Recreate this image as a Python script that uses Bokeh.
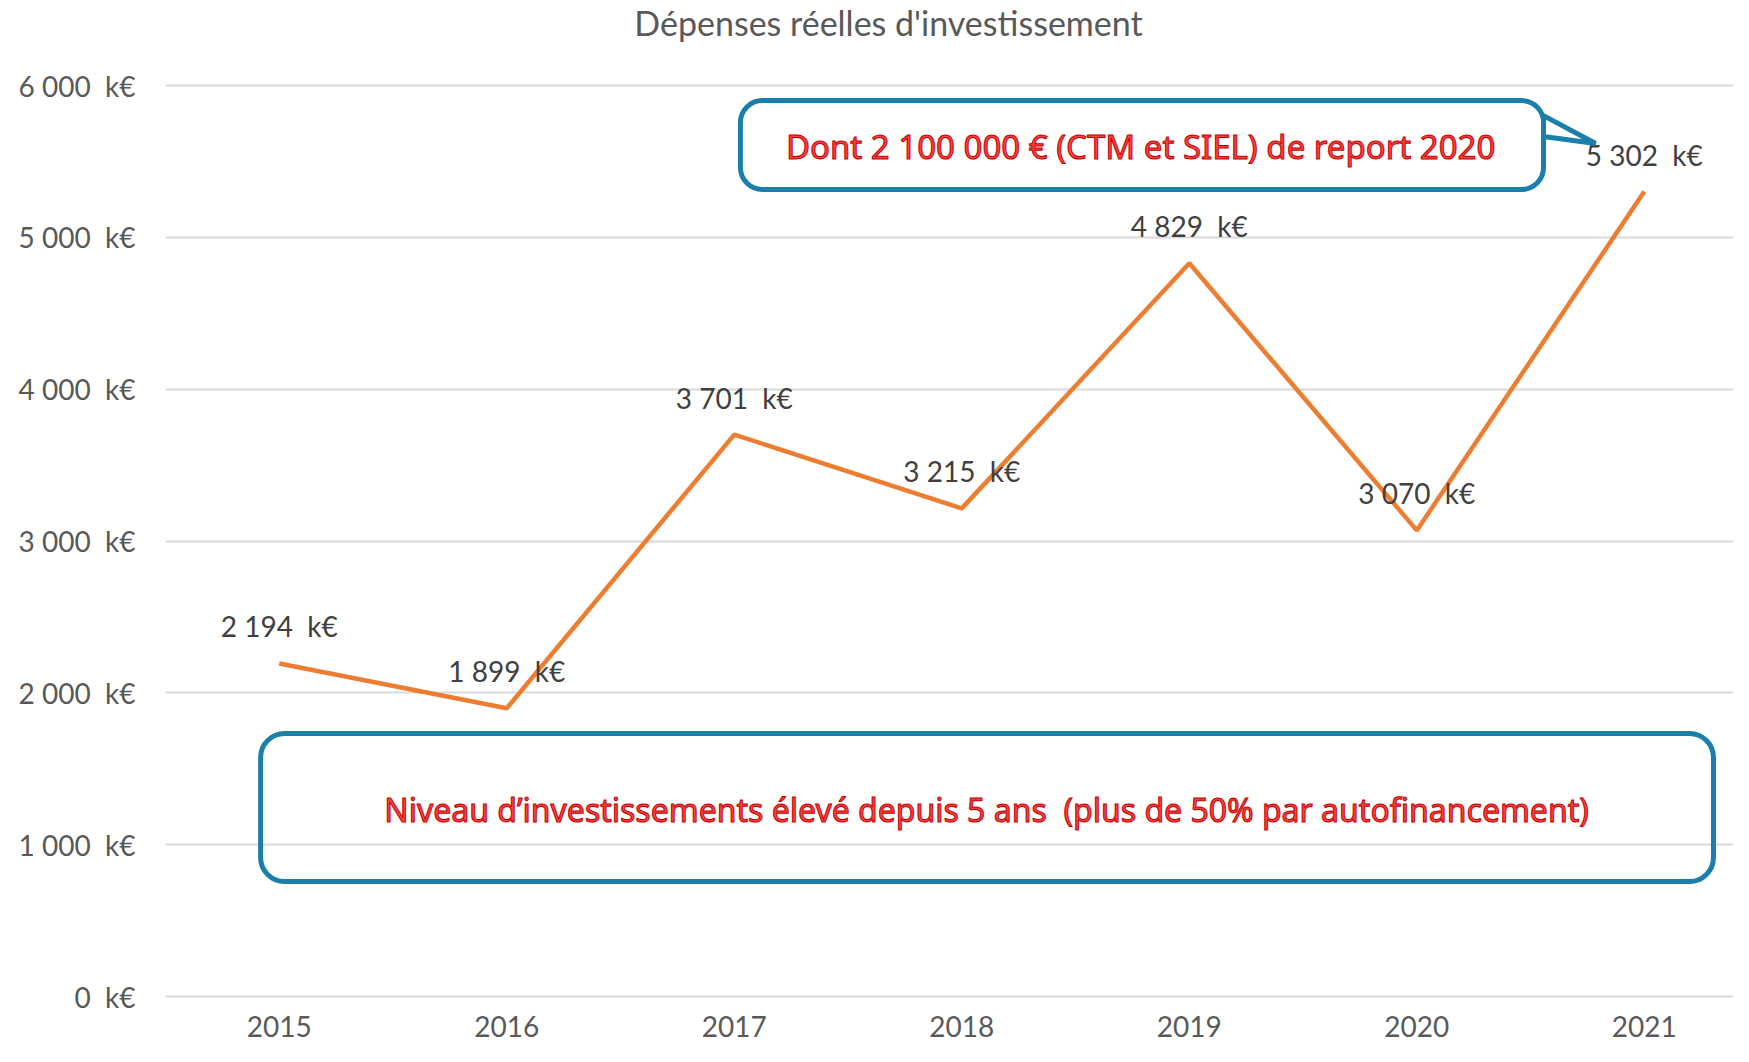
from bokeh.plotting import figure
from bokeh.models import ColumnDataSource, FixedTicker, BoxAnnotation, Range1d, Label
from bokeh.core.properties import value
from bokeh.embed import file_html
from bokeh.resources import INLINE

years = ["2015", "2016", "2017", "2018", "2019", "2020", "2021"]
depenses = [2194, 1899, 3701, 3215, 4829, 3070, 5302]
y_ticks = [0, 1000, 2000, 3000, 4000, 5000, 6000]
title_text = "Dépenses réelles d'investissement"
note_top = "Dont 2 100 000 € (CTM et SIEL) de report 2020"
note_bottom = "Niveau d\u2019investissements élevé depuis 5 ans \u00a0(plus de 50% par autofinancement)"

SP = " \u00a0"  # double space before unit


def fmt(v):
    return f"{v:,}".replace(",", " ") + SP + "k€"


xs = list(range(len(years)))
src = ColumnDataSource(dict(x=xs, y=depenses, lab=[fmt(v) for v in depenses]))

p = figure(width=1733, height=1046, output_backend="svg", toolbar_location=None,
           x_range=Range1d(-0.5, 6.392), y_range=Range1d(-26, 6560),
           min_border_left=165, min_border_right=0, min_border_bottom=46, min_border_top=0)
p.outline_line_color = None
p.background_fill_color = "white"
p.border_fill_color = "white"

# axes
p.xaxis.ticker = FixedTicker(ticks=xs)
p.xaxis.major_label_overrides = {i: y for i, y in enumerate(years)}
p.yaxis.ticker = FixedTicker(ticks=y_ticks)
p.yaxis.major_label_overrides = {t: fmt(t) for t in y_ticks}
for ax in (p.xaxis, p.yaxis):
    ax.axis_line_color = None
    ax.major_tick_line_color = None
    ax.minor_tick_line_color = None
    ax.major_tick_out = 0
    ax.major_tick_in = 0
    ax.minor_tick_out = 0
    ax.minor_tick_in = 0
    ax.major_label_text_font = "Lato"
    ax.major_label_text_font_size = "28px"
    ax.major_label_text_color = "#595959"
p.yaxis.major_label_standoff = 30
p.xaxis.major_label_standoff = 15

p.xgrid.grid_line_color = None
p.ygrid.ticker = FixedTicker(ticks=y_ticks)
p.ygrid.grid_line_color = "#D9D9D9"
p.ygrid.grid_line_width = 2

# title (inside the extended frame)
p.add_layout(Label(x=2.678, y=6415, text=title_text, text_align="center",
                   text_baseline="middle", text_font="Lato", text_font_size="34px",
                   text_color="#595959"))

# line
p.line("x", "y", source=src, line_color="#ED7D31", line_width=4.5)

# data labels
p.text("x", "y", text="lab", source=src, y_offset=-37,
       text_align="center", text_baseline="middle",
       text_font=value("Lato"), text_font_size="28px", text_color="#404040")

# callout boxes
blue = "#1A7FAA"
tail_x = [5.557, 5.786, 5.557]
tail_y = [5802, 5618, 5664]
p.patch(tail_x, tail_y, fill_color="white", line_color=blue, line_width=5)
box1 = BoxAnnotation(left=2.027, right=5.557, bottom=5315, top=5901,
                     fill_alpha=0.0, line_color=blue,
                     line_width=5, line_alpha=1.0, border_radius=22)
p.add_layout(box1)
box2 = BoxAnnotation(left=-0.082, right=6.304, bottom=757, top=1732,
                     fill_alpha=0.0, line_color=blue, line_width=5,
                     line_alpha=1.0, border_radius=24)
p.add_layout(box2)

p.text([3.786], [5598], text=[note_top], text_align="center", text_baseline="middle",
       text_font=value("Noto Sans"), text_font_size="33px",
       text_color="#FF4040", text_outline_color="#C00000")
p.text([3.109], [1232], text=[note_bottom], text_align="center", text_baseline="middle",
       text_font=value("Noto Sans"), text_font_size="32px",
       text_color="#FF4040", text_outline_color="#C00000")

open("out.html", "w").write(file_html(p, INLINE))
